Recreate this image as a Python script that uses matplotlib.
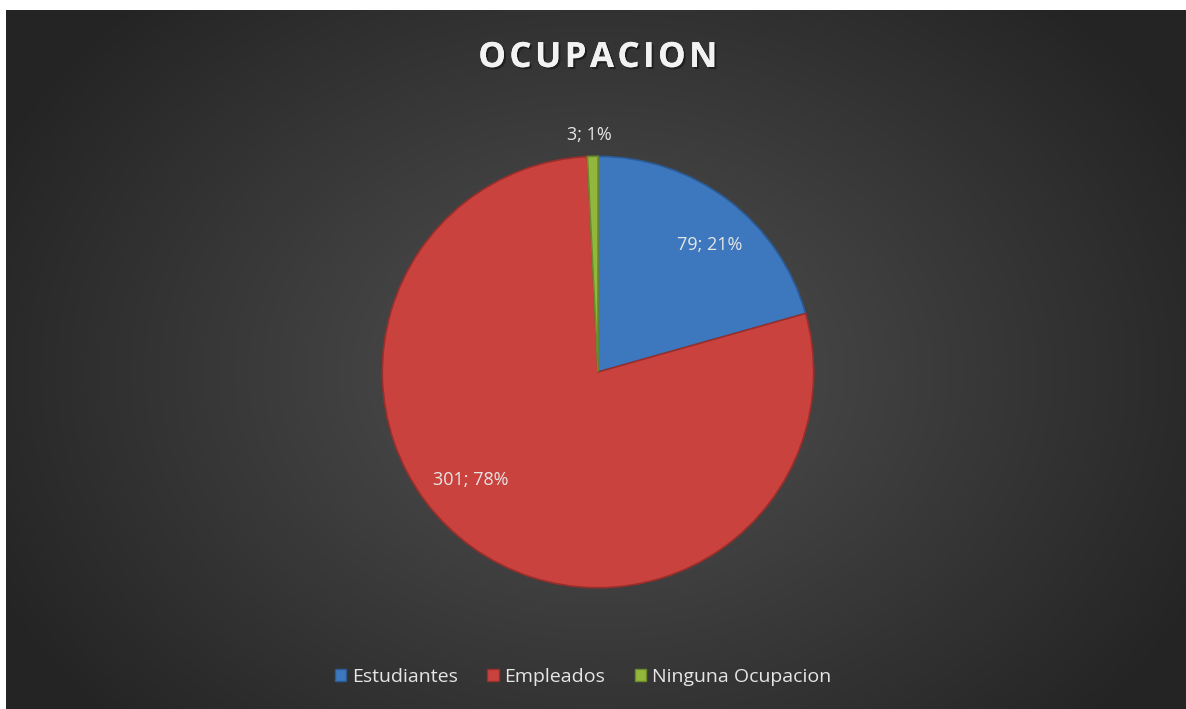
import numpy as np
import matplotlib.pyplot as plt
import matplotlib.patheffects as pe
from matplotlib.patches import Rectangle

categorias = ['Estudiantes', 'Empleados', 'Ninguna Ocupacion']
valores = [79, 301, 3]
porcentajes = ['21%', '78%', '1%']
colores = ['#3d77be', '#c9423e', '#93b73d']
bordes = ['#2b5a94', '#9a2e2b', '#6e8a2a']

fig = plt.figure(figsize=(11.86, 7.09), dpi=100)
fig.patch.set_facecolor('white')

# fondo con degradado radial
bg = fig.add_axes([6 / 1186, 0, 1 - 6 / 1186, 1 - 10 / 709])
yy, xx = np.mgrid[0:699, 0:1180]
cx, cy = 592, 362
d = np.sqrt(((xx - cx) / 680) ** 2 + ((yy - cy) / 520) ** 2)
g = np.clip(0.32 - 0.18 * d, 0.145, 0.32)
bg.imshow(np.dstack([g, g, g]), aspect='auto', interpolation='bilinear')
bg.axis('off')

# pastel
ax = fig.add_axes([(598 - 220) / 1186, 1 - (372 + 220) / 709, 440 / 1186, 440 / 709])
wedges, _ = ax.pie(valores, colors=colores, startangle=90, counterclock=False,
                   wedgeprops=dict(linewidth=1.2))
for w, b in zip(wedges, bordes):
    w.set_edgecolor(b)
ax.set_xlim(-1.02, 1.02)
ax.set_ylim(-1.02, 1.02)
ax.set_aspect('equal')
ax.axis('off')

pos_etiquetas = [(0.52, 0.59), (-0.59, -0.50), (-0.04, 1.10)]
for v, p, (x, y) in zip(valores, porcentajes, pos_etiquetas):
    ax.text(x, y, f'{v}; {p}', ha='center', va='center', fontsize=13,
            color='#e6e6e6', family='Open Sans', clip_on=False)

# titulo
fig.text(598 / 1186, 1 - 58 / 709, '\u200a'.join('OCUPACION'),
         ha='center', va='center', fontsize=25, fontweight='bold',
         family='Open Sans', color='#f2f2f2',
         path_effects=[pe.withSimplePatchShadow(offset=(1.5, -1.5), shadow_rgbFace='black', alpha=0.4),
                       pe.Normal()])

# leyenda
handles = [Rectangle((0, 0), 1, 1, facecolor=c, edgecolor=b) for c, b in zip(colores, bordes)]
leg = fig.legend(handles, categorias, loc='center', bbox_to_anchor=(583 / 1186, 1 - 677 / 709),
                 ncol=3, frameon=False, handlelength=0.6, handleheight=0.6,
                 handletextpad=0.3, columnspacing=1.5,
                 prop={'family': 'Open Sans', 'size': 14})
for t in leg.get_texts():
    t.set_color('#e6e6e6')

fig.savefig('out.png', dpi=100, facecolor=fig.get_facecolor())
